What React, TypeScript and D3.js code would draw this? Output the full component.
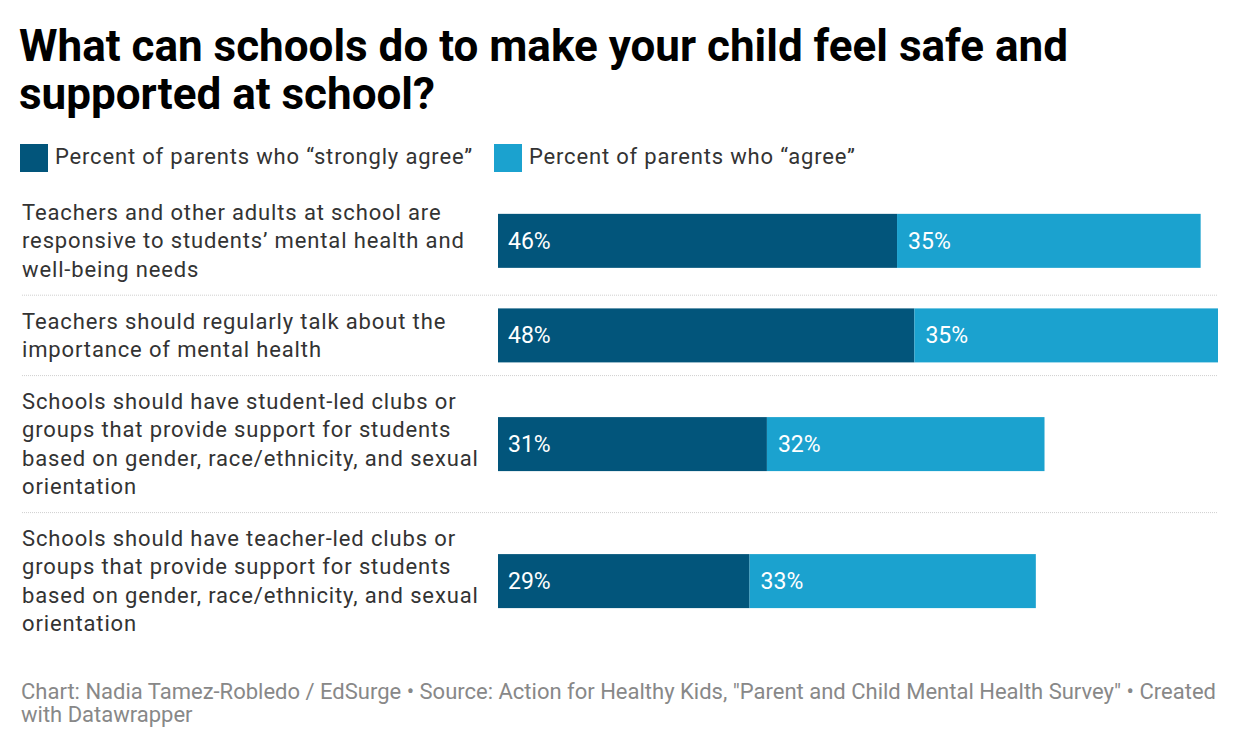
import React from "react";
import * as d3 from "d3";

const title = ["What can schools do to make your child feel safe and", "supported at school?"];
const seriesNames = ["Percent of parents who \u201cstrongly agree\u201d", "Percent of parents who \u201cagree\u201d"];
const categories = [
  ["Teachers and other adults at school are", "responsive to students\u2019 mental health and", "well-being needs"],
  ["Teachers should regularly talk about the", "importance of mental health"],
  ["Schools should have student-led clubs or", "groups that provide support for students", "based on gender, race/ethnicity, and sexual", "orientation"],
  ["Schools should have teacher-led clubs or", "groups that provide support for students", "based on gender, race/ethnicity, and sexual", "orientation"],
];
const stronglyAgree = [46, 48, 31, 29];
const agree = [35, 35, 32, 33];
const footer = [
  "Chart: Nadia Tamez-Robledo / EdSurge \u2022 Source: Action for Healthy Kids, \"Parent and Child Mental Health Survey\" \u2022 Created",
  "with Datawrapper",
];

const COLORS = ["#02557b", "#1ba2cf"];
const FONT = "Roboto, 'Noto Sans', sans-serif";

export default function App() {
  const W = 1240, H = 752;
  const x = d3.scaleLinear().domain([0, 83]).range([498, 1218]);
  const LH = 28.3, GAP = 23.8, BAR_H = 54;
  let top = 186.5;
  const rows = categories.map((lines, i) => {
    const h = lines.length * LH + GAP;
    const r = { lines, i, top, h, cy: top + h / 2 };
    top += h;
    return r;
  });
  const legendX = [20, 494];

  return (
    <svg width={W} height={H} style={{ position: "absolute", left: 0, top: 0, background: "#fff" }} fontFamily={FONT}>
      <rect x={0} y={0} width={W} height={H} fill="#fff" />
      {title.map((t, i) => (
        <text key={i} x={19} y={61 + i * 48} fontSize={44} fontWeight={700} fill="#000">{t}</text>
      ))}
      {seriesNames.map((s, i) => (
        <g key={i}>
          <rect x={legendX[i]} y={144} width={28} height={28} fill={COLORS[i]} />
          <text x={legendX[i] + 35} y={163.5} fontSize={22} letterSpacing={0.82} fill="#333">{s}</text>
        </g>
      ))}
      {rows.map((r) => {
        const n = r.lines.length;
        const firstBase = r.cy - ((n - 1) * LH) / 2 + 7.5;
        const s = stronglyAgree[r.i], a = agree[r.i];
        return (
          <g key={r.i}>
            {r.lines.map((l, j) => (
              <text key={j} x={22} y={firstBase + j * LH} fontSize={22} letterSpacing={0.86} fill="#333">{l}</text>
            ))}
            <rect x={x(0)} y={r.cy - BAR_H / 2} width={x(s) - x(0)} height={BAR_H} fill={COLORS[0]} />
            <rect x={x(s)} y={r.cy - BAR_H / 2} width={x(s + a) - x(s)} height={BAR_H} fill={COLORS[1]} />
            <text x={x(0) + 10} y={r.cy + 8} fontSize={23} fill="#fff">{s}%</text>
            <text x={x(s) + 11} y={r.cy + 8} fontSize={23} fill="#fff">{a}%</text>
            {r.i < rows.length - 1 && (
              <line x1={22} x2={1218} y1={r.top + r.h} y2={r.top + r.h} stroke="#cfcfcf" strokeWidth={1} strokeDasharray="1,1" />
            )}
          </g>
        );
      })}
      {footer.map((f, i) => (
        <text key={i} x={21} y={699.3 + i * 22.7} fontSize={22} fill="#888">{f}</text>
      ))}
    </svg>
  );
}
